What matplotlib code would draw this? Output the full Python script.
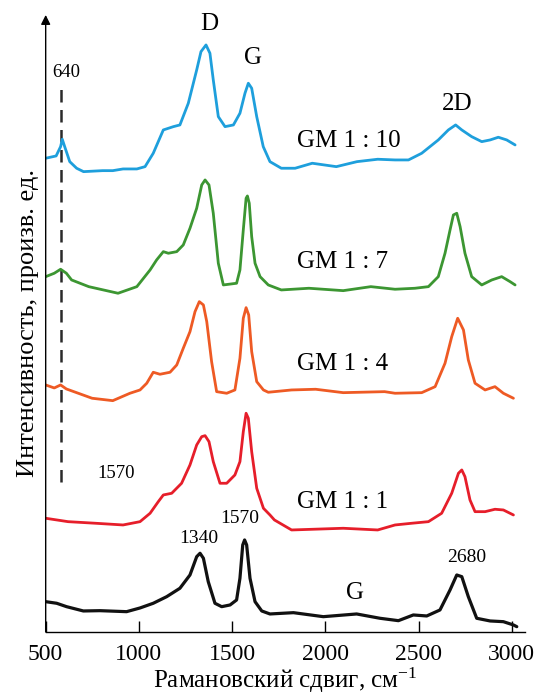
import numpy as np
import matplotlib
matplotlib.use("Agg")
import matplotlib.pyplot as plt

plt.rcParams['font.family'] = ['Liberation Serif', 'DejaVu Serif']
plt.rcParams['mathtext.fontset'] = 'custom'
plt.rcParams['mathtext.rm'] = 'Liberation Serif'
plt.rcParams['mathtext.it'] = 'Liberation Serif:italic'

# ---------- data (arb. units, before stacking) ----------
wn_blue = [500, 556, 580, 589, 602, 629, 666, 703, 805, 860, 915, 989, 1033, 1077,
           1131, 1185, 1220, 1265, 1310, 1333, 1360, 1381, 1399, 1426, 1462, 1507,
           1542, 1569, 1587, 1605, 1632, 1667, 1703, 1764, 1838, 1930, 2059, 2170,
           2281, 2374, 2446, 2517, 2606, 2660, 2699, 2732, 2785, 2839, 2884, 2928,
           2973, 3018]
int_blue = [13.7, 16, 25.3, 32.7, 25.3, 10.3, 3.7, 0.3, 1.3, 1.3, 3, 3, 5.3, 18.7,
            42, 45.3, 47, 68.7, 102, 120.3, 127, 118.7, 92, 55.3, 45.3, 47,
            58.7, 78.7, 88.7, 83.7, 55.3, 25.3, 10.3, 3.7, 3.7, 8.7, 5.3, 10.3,
            12.7, 12, 12, 18.7, 32, 42, 47, 42, 35.3, 30.3, 32, 34.7,
            32, 27]

wn_green = [500, 546, 580, 611, 639, 731, 888, 989, 1060, 1095, 1131, 1158, 1203,
            1238, 1274, 1310, 1337, 1355, 1376, 1399, 1426, 1453, 1524, 1542, 1560,
            1575, 1582, 1592, 1605, 1623, 1650, 1694, 1764, 1912, 2096, 2244, 2374,
            2481, 2553, 2606, 2642, 2669, 2687, 2705, 2723, 2749, 2785, 2839, 2893,
            2946, 2991, 3018]
int_green = [15.3, 18.7, 22.7, 18.7, 12, 5.3, -1.3, 5.3, 22, 32, 40.3, 38.7, 40.3,
             47, 63.7, 83.7, 107, 112, 107, 78.7, 28.7, 7, 8.7, 22, 62,
             93.7, 96, 88.7, 55.3, 28.7, 15.3, 7, 2, 3.7, 1.3, 5.3, 2.7,
             3.7, 5.3, 15.3, 38.7, 62, 77, 78.7, 65.3, 38.7, 15.3, 7, 12,
             15.3, 10.3, 7]

wn_orange = [500, 546, 580, 611, 749, 860, 952, 1006, 1042, 1077, 1113, 1167, 1203,
             1238, 1274, 1301, 1324, 1346, 1364, 1390, 1417, 1471, 1515, 1542, 1560,
             1575, 1589, 1605, 1632, 1668, 1694, 1819, 1948, 2096, 2318, 2374, 2517,
             2589, 2642, 2678, 2710, 2741, 2767, 2803, 2857, 2910, 2955, 3009]
int_orange = [17, 14, 17, 13, 3.7, 1.3, 8.7, 12, 18.7, 29.7, 27.7, 29.7, 37,
              53.7, 70.3, 90.3, 100.3, 97, 80.3, 40.3, 10.3, 8.7, 12, 43.7, 83.7,
              94.3, 87, 50.3, 20.3, 12, 9.7, 12, 12.7, 9.3, 10.3, 8.7, 9.3,
              15.3, 38.7, 65.3, 83.7, 72, 42, 18.7, 12, 15.3, 8.7, 3.7]

wn_red = [500, 620, 768, 915, 1006, 1060, 1104, 1131, 1176, 1229, 1274, 1310, 1337,
          1355, 1376, 1399, 1435, 1471, 1515, 1542, 1560, 1575, 1587, 1605, 1632,
          1668, 1703, 1727, 1819, 2096, 2281, 2374, 2463, 2553, 2624, 2678, 2714,
          2732, 2749, 2776, 2803, 2857, 2910, 2955, 3009]
int_red = [13.7, 10.3, 8.7, 7, 10.3, 18.7, 30.3, 37, 38.7, 48.7, 67, 87, 95.3,
           96.3, 90.3, 70.3, 48.7, 48.7, 57, 70.3, 100.3, 118.7, 113.7, 80.3, 43.7,
           23.7, 17, 12, 2, 3.7, 2, 7, 8.7, 10.3, 18.7, 38.7, 58.7,
           62, 55.3, 32, 20.3, 20.3, 22.7, 22, 17]

wn_black = [500, 559, 612, 702, 791, 934, 1006, 1077, 1149, 1220, 1274, 1310, 1328,
            1346, 1372, 1408, 1444, 1489, 1524, 1542, 1557, 1567, 1578, 1596, 1623,
            1659, 1703, 1829, 1989, 2168, 2293, 2392, 2472, 2544, 2615, 2669, 2705,
            2732, 2767, 2812, 2884, 2955, 3009, 3027]
int_black = [30.3, 28.7, 25.3, 21, 21.3, 20.3, 24, 28.7, 35.3, 43.7, 57, 75.3, 78.7,
             73.7, 50.3, 28.7, 25.3, 27, 32, 53.7, 87, 92, 87, 53.7, 30.3,
             21, 18, 19.3, 15.3, 18, 13.7, 11.3, 17, 16, 22, 42, 57,
             55.3, 35.3, 13.7, 11, 10.3, 7, 5.3]

sample_labels = ["GM 1 : 10", "GM 1 : 7", "GM 1 : 4", "GM 1 : 1"]

# ---------- plot ----------
fig = plt.figure(figsize=(5.4, 6.98), dpi=100)
ax = fig.add_axes([0.0846, 0.0946, 0.8876, 0.884])

spectra = [
    (wn_blue, int_blue, 460, "#1e9fdc", 2.0),
    (wn_green, int_green, 340, "#3c9632", 2.0),
    (wn_orange, int_orange, 230, "#ee5a24", 2.0),
    (wn_red, int_red, 100, "#e61e2a", 2.0),
    (wn_black, int_black, 0, "#111111", 2.3),
]

# dashed marker line at the ~640 band
ax.plot([583, 583], [150, 544], color="#2a2a2a", lw=1.8, dashes=(5, 3), zorder=1)

for wn, inten, off, col, lw in spectra:
    ax.plot(wn, np.array(inten) + off, color=col, lw=lw,
            solid_joinstyle="round", solid_capstyle="round", zorder=2)

# sample names
gm_x = 1850
for lab, y in zip(sample_labels, [485, 364, 262, 124]):
    ax.text(gm_x, y, lab, fontsize=18, ha="left", va="baseline")

# band annotations
ax.text(611, 555, "640", fontsize=13.5, ha="center", va="baseline")
ax.text(1380, 602, "D", fontsize=18, ha="center", va="baseline")
ax.text(1614, 568, "G", fontsize=18, ha="center", va="baseline")
ax.text(2705, 522, "2D", fontsize=18, ha="center", va="baseline")
ax.text(878, 154, "1570", fontsize=13.5, ha="center", va="baseline")
ax.text(1319, 89, "1340", fontsize=14, ha="center", va="baseline")
ax.text(1542, 109, "1570", fontsize=14, ha="center", va="baseline")
ax.text(2159, 33, "G", fontsize=18, ha="center", va="baseline")
ax.text(2759, 70, "2680", fontsize=14, ha="center", va="baseline")

ax.set_xlim(500, 3071)
ax.set_ylim(0, 617)
ax.set_xticks([500, 1000, 1500, 2000, 2500, 3000])
ax.set_yticks([])
ax.tick_params(axis="x", direction="in", length=8, width=1, pad=9, labelsize=17)

for side in ["top", "right", "left"]:
    ax.spines[side].set_visible(False)
ax.spines["bottom"].set_linewidth(1)

# y axis drawn as an arrow
ax.annotate("", xy=(0, 1), xytext=(0, 0), xycoords="axes fraction",
            arrowprops=dict(arrowstyle="-|>", lw=1, color="k",
                            mutation_scale=14, shrinkA=0, shrinkB=0))

ax.set_xlabel("Рамановский сдвиг, см$^{-1}$", fontsize=18, labelpad=0)
ax.set_ylabel("Интенсивность, произв. ед.", fontsize=19, labelpad=5)

plt.savefig("out.png", dpi=100)
